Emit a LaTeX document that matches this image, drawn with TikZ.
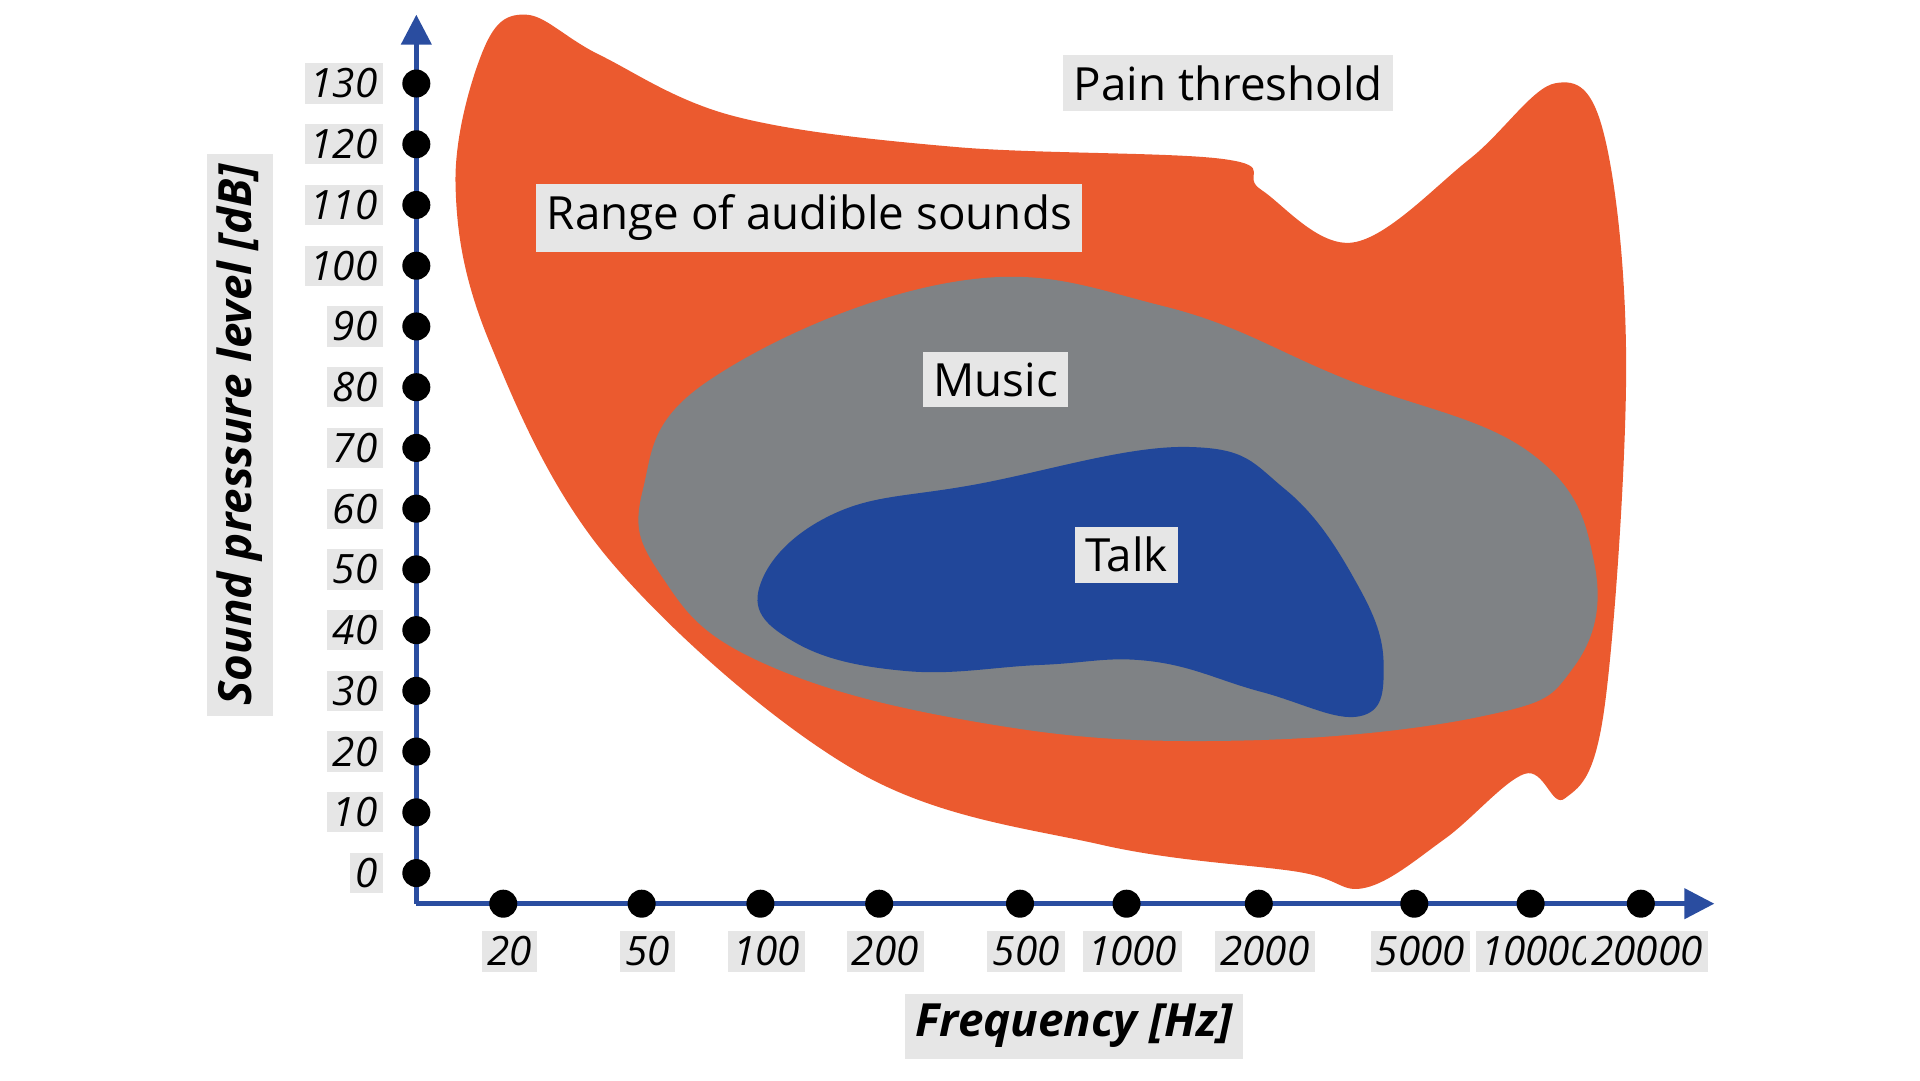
\documentclass[tikz,border=0pt]{standalone}
\usepackage{fontspec}
\setmainfont{Open Sans}
\usetikzlibrary{arrows.meta}
\definecolor{org}{HTML}{EB5A2F}
\definecolor{gr}{HTML}{7F8285}
\definecolor{bl}{HTML}{21479A}
\definecolor{ax}{HTML}{2A4DA0}
\definecolor{lb}{HTML}{E6E6E6}
\begin{document}
\begin{tikzpicture}[x=0.012245cm,y=-0.012245cm,
 lab/.style={fill=lb,inner sep=3pt,font=\fontsize{13}{14}\selectfont},
 num/.style={fill=lb,inner sep=1.5pt,font=\fontsize{11.5}{12}\selectfont\itshape},
 dot/.style={circle,fill=black,inner sep=0,minimum size=0.28cm}]
\useasboundingbox (0,0) rectangle (1568,882);
\fill[org] plot[smooth cycle,tension=0.6] coordinates {(372,150)(395,40)(430,12)(490,45)(600,95)(780,120)(1000,130)(1030,155)(1105,198)(1200,130)(1270,68)(1310,110)(1328,300)(1310,580)(1278,652)(1245,632)(1180,685)(1115,725)(1060,712)(900,690)(700,630)(500,460)(400,280)};
\fill[gr] plot[smooth cycle,tension=0.7] coordinates {(525,400)(580,310)(780,230)(950,250)(1100,310)(1250,370)(1302,460)(1285,545)(1210,585)(1000,605)(800,590)(620,540)(540,470)};
\fill[bl] plot[smooth cycle,tension=0.7] coordinates {(620,480)(680,420)(800,395)(970,365)(1050,400)(1110,480)(1130,545)(1110,585)(1030,565)(940,540)(850,543)(740,548)(650,525)};
\coordinate (o) at (340,738);
\coordinate (yt) at (340,12);
\coordinate (xt) at (1400,738);
\draw[ax,line width=1.3pt,-{Triangle[length=0.3cm,width=0.3cm]}] (o) -- (yt);
\draw[ax,line width=1.3pt,-{Triangle[length=0.3cm,width=0.3cm]}] (o) -- (xt);
\foreach \v [count=\i from 0] in {0,10,20,30,40,50,60,70,80,90,100,110,120,130}{
 \node[dot] (yd\i) at (340,{713-49.6*\i}) {};
 \node[num,anchor=east] (yl\i) at (313,{713-49.6*\i}) {\v};}
\foreach \x/\v [count=\i] in {411/20,524/50,621/100,718/200,833/500,920/1000,1028/2000,1155/5000,1250/10000,1340/20000}{
 \node[dot] (xd\i) at (\x,738) {};
 \node[num] (xl\i) at (\x+5,777) {\v};}
\node[lab] (pain) at (1003,68) {Pain threshold};
\node[lab] (range) at (661,178) {Range of audible sounds};
\node[lab] (music) at (813,310) {Music};
\node[lab] (talk) at (920,453) {Talk};
\node[lab,font=\fontsize{13}{14}\selectfont\bfseries\itshape,rotate=90] (ylab) at (196,355) {Sound pressure level [dB]};
\node[lab,font=\fontsize{13}{14}\selectfont\bfseries\itshape] (xlab) at (877,838) {Frequency [Hz]};
\end{tikzpicture}
\end{document}
